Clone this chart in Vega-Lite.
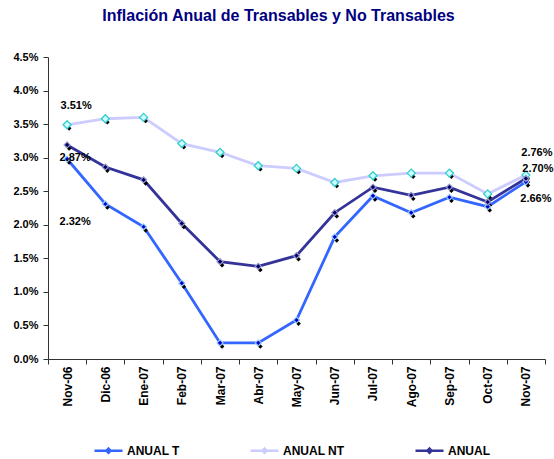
{
  "$schema": "https://vega.github.io/schema/vega-lite/v6.json",
  "width": 497,
  "height": 302,
  "autosize": "none",
  "padding": {"left": 48, "top": 57, "right": 9, "bottom": 100},
  "background": "white",
  "config": {
    "view": {"stroke": null},
    "font": "Liberation Sans",
    "axis": {"grid": false, "labelFont": "Liberation Sans", "labelFontWeight": "bold", "labelColor": "black", "domainColor": "#333333", "tickColor": "#333333", "title": null}
  },
  "title": {
    "text": "Inflación Anual de Transables y No Transables",
    "font": "Liberation Sans",
    "fontSize": 16,
    "fontWeight": "bold",
    "color": "#000080",
    "anchor": "middle",
    "dx": -18,
    "offset": 27
  },
  "data": {
    "values": [
      {"mes": "Nov-06", "serie": "ANUAL T", "valor": 0.0298, "etiqueta": "2.32%"},
      {"mes": "Dic-06", "serie": "ANUAL T", "valor": 0.0231},
      {"mes": "Ene-07", "serie": "ANUAL T", "valor": 0.0197},
      {"mes": "Feb-07", "serie": "ANUAL T", "valor": 0.0113},
      {"mes": "Mar-07", "serie": "ANUAL T", "valor": 0.0024},
      {"mes": "Abr-07", "serie": "ANUAL T", "valor": 0.0024},
      {"mes": "May-07", "serie": "ANUAL T", "valor": 0.0058},
      {"mes": "Jun-07", "serie": "ANUAL T", "valor": 0.0182},
      {"mes": "Jul-07", "serie": "ANUAL T", "valor": 0.0243},
      {"mes": "Ago-07", "serie": "ANUAL T", "valor": 0.0218},
      {"mes": "Sep-07", "serie": "ANUAL T", "valor": 0.0241},
      {"mes": "Oct-07", "serie": "ANUAL T", "valor": 0.0227},
      {"mes": "Nov-07", "serie": "ANUAL T", "valor": 0.0264, "etiqueta": "2.66%"},
      {"mes": "Nov-06", "serie": "ANUAL NT", "valor": 0.0349, "etiqueta": "3.51%"},
      {"mes": "Dic-06", "serie": "ANUAL NT", "valor": 0.0358},
      {"mes": "Ene-07", "serie": "ANUAL NT", "valor": 0.0360},
      {"mes": "Feb-07", "serie": "ANUAL NT", "valor": 0.0321},
      {"mes": "Mar-07", "serie": "ANUAL NT", "valor": 0.0308},
      {"mes": "Abr-07", "serie": "ANUAL NT", "valor": 0.0288},
      {"mes": "May-07", "serie": "ANUAL NT", "valor": 0.0284},
      {"mes": "Jun-07", "serie": "ANUAL NT", "valor": 0.0263},
      {"mes": "Jul-07", "serie": "ANUAL NT", "valor": 0.0273},
      {"mes": "Ago-07", "serie": "ANUAL NT", "valor": 0.0277},
      {"mes": "Sep-07", "serie": "ANUAL NT", "valor": 0.0277},
      {"mes": "Oct-07", "serie": "ANUAL NT", "valor": 0.0246},
      {"mes": "Nov-07", "serie": "ANUAL NT", "valor": 0.0274, "etiqueta": "2.76%"},
      {"mes": "Nov-06", "serie": "ANUAL", "valor": 0.0319, "etiqueta": "2.87%"},
      {"mes": "Dic-06", "serie": "ANUAL", "valor": 0.0286},
      {"mes": "Ene-07", "serie": "ANUAL", "valor": 0.0267},
      {"mes": "Feb-07", "serie": "ANUAL", "valor": 0.0202},
      {"mes": "Mar-07", "serie": "ANUAL", "valor": 0.0145},
      {"mes": "Abr-07", "serie": "ANUAL", "valor": 0.0138},
      {"mes": "May-07", "serie": "ANUAL", "valor": 0.0154},
      {"mes": "Jun-07", "serie": "ANUAL", "valor": 0.0218},
      {"mes": "Jul-07", "serie": "ANUAL", "valor": 0.0256},
      {"mes": "Ago-07", "serie": "ANUAL", "valor": 0.0244},
      {"mes": "Sep-07", "serie": "ANUAL", "valor": 0.0256},
      {"mes": "Oct-07", "serie": "ANUAL", "valor": 0.0234},
      {"mes": "Nov-07", "serie": "ANUAL", "valor": 0.0269, "etiqueta": "2.70%"}
    ]
  },
  "encoding": {
    "x": {
      "field": "mes",
      "type": "ordinal",
      "sort": null,
      "scale": {"type": "band", "paddingInner": 0, "paddingOuter": 0},
      "axis": {"labelAngle": -90, "labelFontSize": 12, "tickBand": "extent", "tickSize": 5, "labelPadding": 2, "domainColor": "#333333"}
    },
    "y": {
      "field": "valor",
      "type": "quantitative",
      "scale": {"domain": [0, 0.045], "nice": false},
      "axis": {"values": [0, 0.005, 0.01, 0.015, 0.02, 0.025, 0.03, 0.035, 0.04, 0.045], "format": ".1%", "labelFontSize": 11, "tickSize": 5, "labelPadding": 5}
    }
  },
  "layer": [
    {
      "mark": {"type": "line", "strokeWidth": 2.8},
      "encoding": {
        "color": {
          "field": "serie",
          "type": "nominal",
          "scale": {"domain": ["ANUAL T", "ANUAL NT", "ANUAL"], "range": ["#3366FF", "#CCCCFF", "#333399"]},
          "legend": {
            "title": null,
            "orient": "none",
            "direction": "horizontal",
            "legendX": 45,
            "legendY": 378,
            "padding": 0,
            "columnPadding": 65,
            "labelFont": "Liberation Sans",
            "labelFontSize": 12,
            "labelFontWeight": "bold",
            "labelColor": "black",
            "labelOffset": 3,
            "symbolType": "M-1,0L1,0M0,-0.15L0.15,0L0,0.15L-0.15,0Z",
            "symbolSize": 784,
            "symbolStrokeWidth": 2.5,
            "encode": {"symbols": {"update": {"fill": {"scale": "color", "field": "value"}}}}
          }
        }
      }
    },
    {
      "mark": {"type": "point", "shape": "diamond", "filled": true, "size": 22, "color": "black", "xOffset": 2, "yOffset": 3.5, "opacity": 1},
      "encoding": {}
    },
    {
      "transform": [{"filter": "datum.serie == 'ANUAL T'"}],
      "mark": {"type": "point", "shape": "diamond", "filled": true, "size": 36, "fill": "#0000CC", "stroke": "#99CCFF", "strokeWidth": 1.2, "opacity": 1},
      "encoding": {}
    },
    {
      "transform": [{"filter": "datum.serie == 'ANUAL NT'"}],
      "mark": {"type": "point", "shape": "diamond", "filled": true, "size": 64, "fill": "#CCFFFF", "stroke": "#33CCCC", "strokeWidth": 1.3, "opacity": 1},
      "encoding": {}
    },
    {
      "transform": [{"filter": "datum.serie == 'ANUAL'"}],
      "mark": {"type": "point", "shape": "diamond", "filled": true, "size": 36, "fill": "#000066", "stroke": "#9999CC", "strokeWidth": 1.2, "opacity": 1},
      "encoding": {}
    },
    {
      "transform": [{"filter": "datum.serie == 'ANUAL NT' && datum.mes == 'Nov-06'"}],
      "mark": {"type": "text", "fontSize": 11, "fontWeight": "bold", "color": "black", "dx": 9, "dy": -19},
      "encoding": {"text": {"field": "etiqueta"}}
    },
    {
      "transform": [{"filter": "datum.serie == 'ANUAL' && datum.mes == 'Nov-06'"}],
      "mark": {"type": "text", "fontSize": 11, "fontWeight": "bold", "color": "black", "dx": 8, "dy": 13},
      "encoding": {"text": {"field": "etiqueta"}}
    },
    {
      "transform": [{"filter": "datum.serie == 'ANUAL T' && datum.mes == 'Nov-06'"}],
      "mark": {"type": "text", "fontSize": 11, "fontWeight": "bold", "color": "black", "dx": 8, "dy": 63},
      "encoding": {"text": {"field": "etiqueta"}}
    },
    {
      "transform": [{"filter": "datum.serie == 'ANUAL NT' && datum.mes == 'Nov-07'"}],
      "mark": {"type": "text", "fontSize": 11, "fontWeight": "bold", "color": "black", "dx": 11, "dy": -22},
      "encoding": {"text": {"field": "etiqueta"}}
    },
    {
      "transform": [{"filter": "datum.serie == 'ANUAL' && datum.mes == 'Nov-07'"}],
      "mark": {"type": "text", "fontSize": 11, "fontWeight": "bold", "color": "black", "dx": 12, "dy": -9},
      "encoding": {"text": {"field": "etiqueta"}}
    },
    {
      "transform": [{"filter": "datum.serie == 'ANUAL T' && datum.mes == 'Nov-07'"}],
      "mark": {"type": "text", "fontSize": 11, "fontWeight": "bold", "color": "black", "dx": 10, "dy": 17},
      "encoding": {"text": {"field": "etiqueta"}}
    }
  ]
}
